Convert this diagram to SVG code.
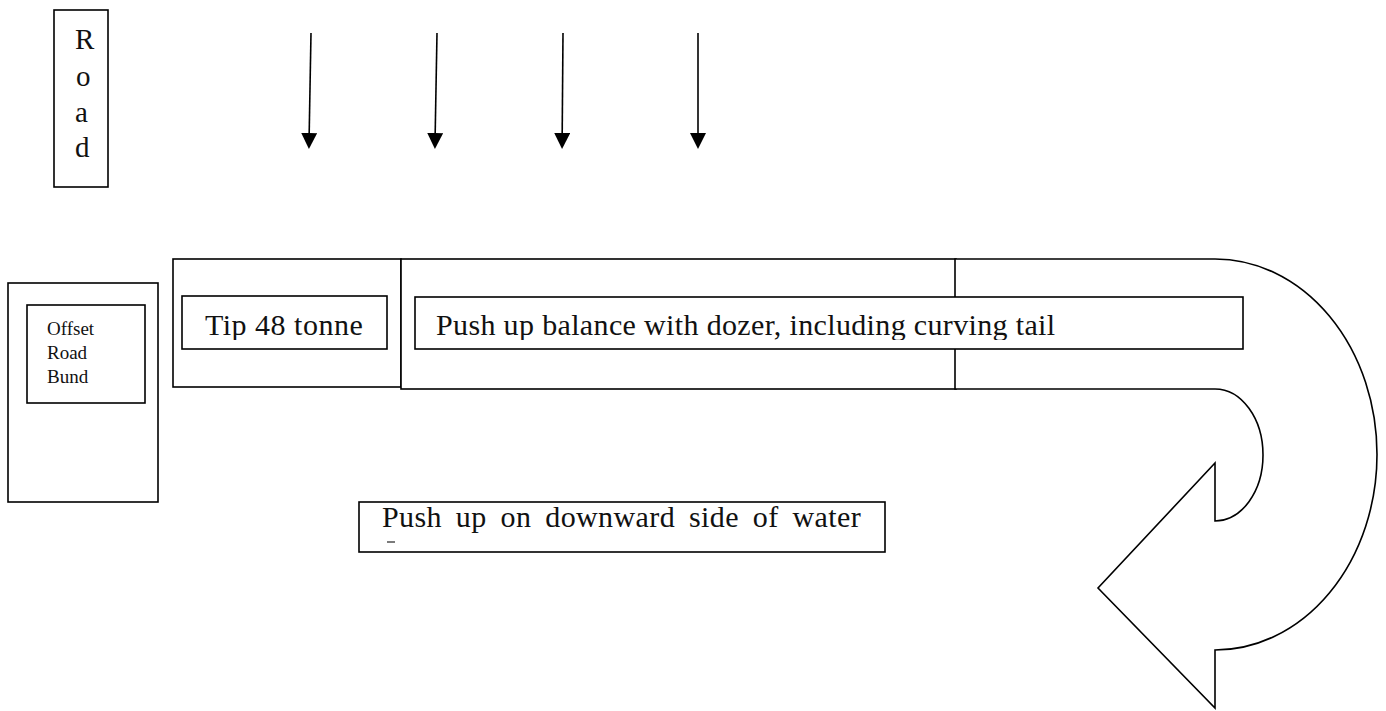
<svg xmlns="http://www.w3.org/2000/svg" width="1386" height="711" viewBox="0 0 1386 711">
<style>
.box{fill:#fff;stroke:#000;stroke-width:1.6}
.con{stroke:#000;stroke-width:1.6;fill:none}
</style>
<defs>
<marker id="ah" markerUnits="userSpaceOnUse" markerWidth="16" markerHeight="16" viewBox="0 0 16 16" refX="0" refY="8" orient="auto">
<path d="M0,0 L16,8 L0,16 Z" fill="#000"/>
</marker>
<clipPath id="c1"><rect x="415" y="297" width="828" height="43"/></clipPath>
<clipPath id="c2"><rect x="182" y="296" width="205" height="44"/></clipPath>
</defs>
<rect width="1386" height="711" fill="#fff"/>

<g id="road" font-family="Liberation Serif, DejaVu Serif, serif" fill="#111">
<rect class="box" x="54" y="10" width="54" height="177"/>
<text font-size="29" x="75" y="49">R</text>
<text font-size="29" x="76" y="86">o</text>
<text font-size="29" x="75" y="122">a</text>
<text font-size="29" x="75" y="157">d</text>
</g>

<g id="connectors">
<line class="con" x1="311" y1="33" x2="309.2" y2="133" marker-end="url(#ah)"/>
<line class="con" x1="437" y1="33" x2="435.2" y2="133" marker-end="url(#ah)"/>
<line class="con" x1="563" y1="33" x2="562.2" y2="133" marker-end="url(#ah)"/>
<line class="con" x1="698" y1="33" x2="698" y2="133" marker-end="url(#ah)"/>
</g>

<g id="offset-road-bund" font-family="Liberation Serif, DejaVu Serif, serif" fill="#111">
<rect class="box" x="8" y="283" width="150" height="219"/>
<rect class="box" x="27" y="305" width="118" height="98"/>
<text font-size="19" x="47" y="335">Offset</text>
<text font-size="19" x="47" y="359">Road</text>
<text font-size="19" x="47" y="383">Bund</text>
</g>

<g id="tip-outer">
<rect class="box" x="173" y="259" width="228" height="128"/>
</g>
<g id="balance-outer">
<rect class="box" x="401" y="259" width="555" height="130"/>
</g>

<g id="curved-arrow">
<path class="box" d="M955 259 L1215 259 A162 195.5 0 0 1 1215 650 L1215 708 L1098 588 L1215 463 L1215 521 A48 66 0 0 0 1215 389 L955 389 Z"/>
</g>

<g id="tip" font-family="Liberation Serif, DejaVu Serif, serif" fill="#111">
<rect class="box" x="182" y="296" width="205" height="53"/>
<text font-size="30" letter-spacing="0.5" x="205" y="335" clip-path="url(#c2)">Tip 48 tonne</text>
</g>

<g id="push-balance" font-family="Liberation Serif, DejaVu Serif, serif" fill="#111">
<rect class="box" x="415" y="297" width="828" height="52"/>
<text font-size="30" letter-spacing="0.35" x="436" y="335" clip-path="url(#c1)">Push up balance with dozer, including curving tail</text>
</g>

<g id="push-downward" font-family="Liberation Serif, DejaVu Serif, serif" fill="#111">
<rect class="box" x="359" y="502" width="526" height="50"/>
<text font-size="30" letter-spacing="0.4" x="382" y="527" word-spacing="6">Push up on downward side of water</text>
<line x1="387" y1="542" x2="395" y2="542" stroke="#222" stroke-width="1.2"/>
</g>
</svg>
